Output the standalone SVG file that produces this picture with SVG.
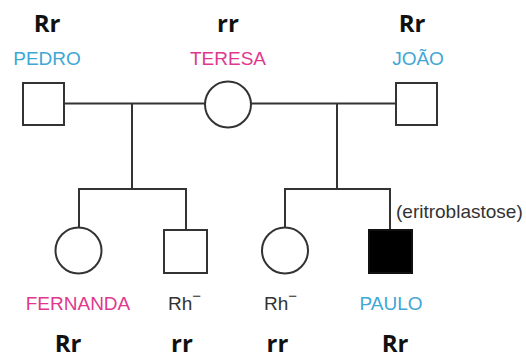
<svg xmlns="http://www.w3.org/2000/svg" width="526" height="358" viewBox="0 0 526 358">
  <style>
    .sym { fill: #fff; stroke: #333; stroke-width: 2; }
    .aff { fill: #000; stroke: #111; stroke-width: 2; }
    .ln { fill: none; stroke: #333; stroke-width: 2; }
    .geno { font-family: "Open Sans", "Liberation Sans", sans-serif; font-weight: bold; font-size: 24px; fill: #111; text-anchor: middle; }
    .name { font-family: "Liberation Sans", Arial, sans-serif; font-size: 19px; text-anchor: middle; }
    .male { fill: #3fa7d4; }
    .female { fill: #e0388e; }
    .note { font-family: "Liberation Sans", Arial, sans-serif; font-size: 19px; fill: #333; }
  </style>
  <rect width="526" height="358" fill="#fff"/>

  <!-- connectors -->
  <g id="connectors">
    <line class="ln" x1="64" y1="103.5" x2="205" y2="103.5"/>
    <line class="ln" x1="251" y1="103.5" x2="396" y2="103.5"/>
    <!-- left sibship -->
    <line class="ln" x1="132" y1="103.5" x2="132" y2="189"/>
    <polyline class="ln" points="79,227 79,189 186,189 186,230"/>
    <!-- right sibship -->
    <line class="ln" x1="337" y1="103.5" x2="337" y2="189"/>
    <polyline class="ln" points="285,227 285,189 390,189 390,230"/>
  </g>

  <g id="pedro">
    <text class="geno" x="47" y="32">Rr</text>
    <text class="name male" x="47" y="65">PEDRO</text>
    <rect class="sym" x="23" y="83" width="41" height="42"/>
  </g>

  <g id="teresa">
    <text class="geno" x="228" y="32">rr</text>
    <text class="name female" x="228" y="65">TERESA</text>
    <circle class="sym" cx="228" cy="104.5" r="23"/>
  </g>

  <g id="joao">
    <text class="geno" x="412" y="32">Rr</text>
    <text class="name male" x="418" y="65">JOÃO</text>
    <rect class="sym" x="396" y="83" width="41" height="42"/>
  </g>

  <g id="fernanda">
    <circle class="sym" cx="78.5" cy="250.5" r="23"/>
    <text class="name female" x="78" y="310">FERNANDA</text>
    <text class="geno" x="68" y="352">Rr</text>
  </g>

  <g id="son-left">
    <rect class="sym" x="164" y="230" width="43" height="43"/>
    <text class="note" x="168" y="310">Rh<tspan dy="-9" font-size="15">−</tspan></text>
    <text class="geno" x="182" y="352">rr</text>
  </g>

  <g id="daughter-right">
    <circle class="sym" cx="285" cy="250.5" r="23"/>
    <text class="note" x="264" y="310">Rh<tspan dy="-9" font-size="15">−</tspan></text>
    <text class="geno" x="277.5" y="352">rr</text>
  </g>

  <g id="paulo">
    <rect class="aff" x="369" y="230" width="43" height="43"/>
    <text class="note" x="396" y="218">(eritroblastose)</text>
    <text class="name male" x="391" y="310">PAULO</text>
    <text class="geno" x="395" y="352">Rr</text>
  </g>
</svg>
